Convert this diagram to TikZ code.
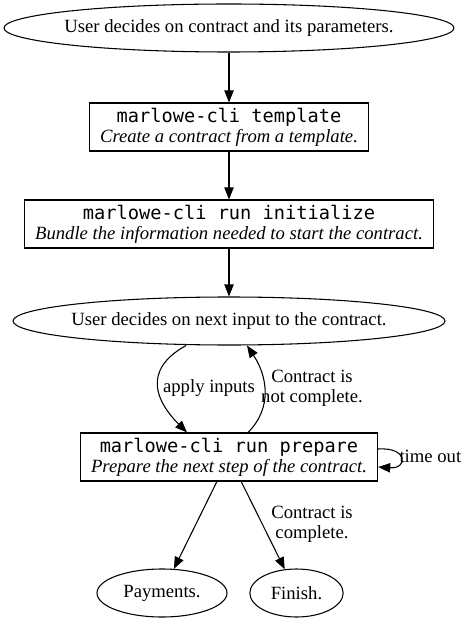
\documentclass[tikz,border=0pt]{standalone}
\usepackage{fontspec}
\setmainfont{Liberation Serif}
\setmonofont{DejaVu Sans Mono}
\usetikzlibrary{calc,shapes.geometric,arrows.meta}

\begin{document}
\begin{tikzpicture}[x=0.75pt,y=-0.75pt,
    font=\fontsize{14}{15}\selectfont,
    every path/.style={line width=0.8pt},
    oval/.style={draw,ellipse,inner xsep=-30pt,inner ysep=0pt,minimum height=36pt},
    cmd/.style={draw,rectangle,align=center,inner xsep=8pt,minimum height=36pt},
    arr/.style={-{Triangle[length=9pt,width=7pt]}}]
          \useasboundingbox (0,0) rectangle (466,623);
          \node[oval,minimum width=337.5pt] (decide) at (229,28) {User decides on contract and its parameters.};
          \node[cmd] (template) at (229,127) {\texttt{marlowe-cli template}\\\textit{Create a contract from a template.}};
          \node[cmd] (init) at (229,224) {\texttt{marlowe-cli run initialize}\\\textit{Bundle the information needed to start the contract.}};
          \node[oval,minimum width=324pt] (next) at (229,321) {User decides on next input to the contract.};
          \node[cmd] (prep) at (229,457) {\texttt{marlowe-cli run prepare}\\\textit{Prepare the next step of the contract.}};
          \node[oval,minimum width=97.5pt] (pay) at (162,593) {Payments.};
          \node[oval,minimum width=70pt] (fin) at (296.5,593) {Finish.};
          \draw[arr] (decide) -- (template);
          \draw[arr] (template) -- (init);
          \draw[arr] (init) -- (next);
          \draw[arr] ($(next.south)+(-43,0)$) .. controls +(-45,25) and +(-30,-30) .. ($(prep.north)+(-42,0)$);
          \draw[arr] ($(prep.north)+(19,0)$) .. controls +(25,-25) and +(20,30) .. ($(next.south)+(18,0)$);
          \draw[arr] ($(prep.east)+(0,-8)$) .. controls +(30,-2) and +(30,2) .. ($(prep.east)+(0,10)$);
          \draw[arr] (prep) -- (pay);
          \draw[arr] (prep) -- (fin);
          \node (apply) at (209,388) {apply inputs};
          \node[align=center] (notdone) at (312,388) {Contract is\\not complete.};
          \node[anchor=west,inner sep=0pt] (timeout) at (399,456) {time out};
          \node[align=center] (done) at (312,524) {Contract is\\complete.};
        \end{tikzpicture}
\end{document}
